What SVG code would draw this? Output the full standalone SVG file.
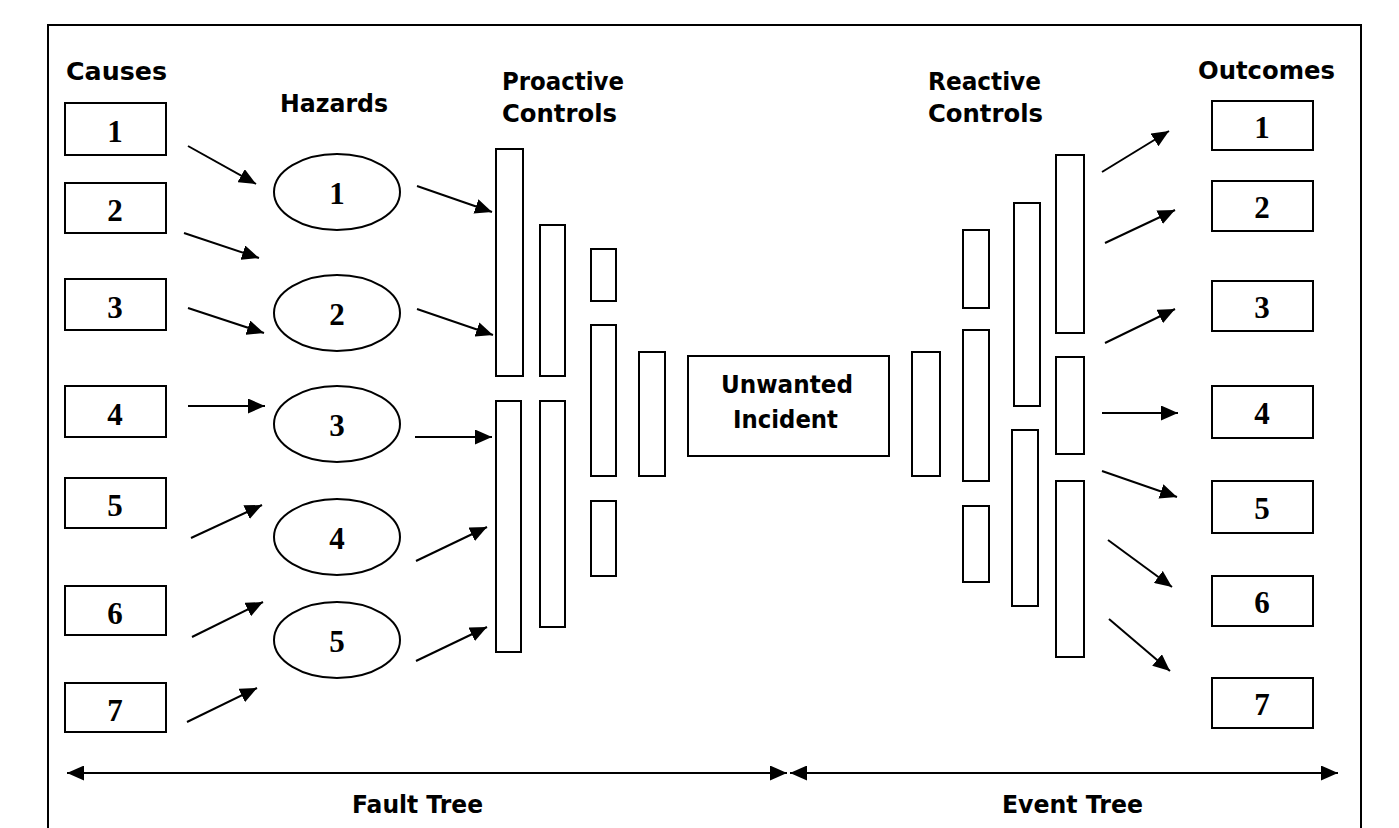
<svg xmlns="http://www.w3.org/2000/svg" width="1399" height="828" viewBox="0 0 1399 828">
  <defs>
    <marker id="head" viewBox="0 0 17 15" refX="17" refY="7.5" markerWidth="17" markerHeight="15" markerUnits="userSpaceOnUse" orient="auto-start-reverse">
      <path d="M0,0 L17,7.5 L0,15 z" fill="#000"/>
    </marker>
    <style>
      .box { fill: #fff; stroke: #000; stroke-width: 2; }
      .bar { fill: #fff; stroke: #000; stroke-width: 2; }
      .num { font-family: "Liberation Serif", "Times New Roman", serif; font-weight: bold; font-size: 31px; text-anchor: middle; fill: #000; }
      .head { font-family: "DejaVu Sans", Verdana, sans-serif; font-weight: bold; font-size: 25px; fill: #000; }
      .arrow { stroke: #000; stroke-width: 2; fill: none; marker-end: url(#head); }
      .span { stroke: #000; stroke-width: 2; fill: none; marker-start: url(#head); marker-end: url(#head); }
    </style>
  </defs>
  <rect width="1399" height="828" fill="#fff"/>

  <!-- frame (open at the bottom) -->
  <path d="M48,828 L48,25 L1361,25 L1361,828" fill="none" stroke="#000" stroke-width="2"/>

  <!-- column headings -->
  <text class="head" x="66" y="80" textLength="101" lengthAdjust="spacingAndGlyphs">Causes</text>
  <text class="head" x="280" y="112" textLength="108" lengthAdjust="spacingAndGlyphs">Hazards</text>
  <text class="head" x="502" y="90" textLength="122" lengthAdjust="spacingAndGlyphs">Proactive</text>
  <text class="head" x="502" y="122" textLength="115" lengthAdjust="spacingAndGlyphs">Controls</text>
  <text class="head" x="928" y="90" textLength="113" lengthAdjust="spacingAndGlyphs">Reactive</text>
  <text class="head" x="928" y="122" textLength="115" lengthAdjust="spacingAndGlyphs">Controls</text>
  <text class="head" x="1198" y="79" textLength="137" lengthAdjust="spacingAndGlyphs">Outcomes</text>

  <!-- causes -->
  <g id="cause1"><rect class="box" x="65" y="103" width="101" height="52"/><text class="num" x="115" y="142">1</text></g>
  <g id="cause2"><rect class="box" x="65" y="183" width="101" height="50"/><text class="num" x="115" y="221">2</text></g>
  <g id="cause3"><rect class="box" x="65" y="279" width="101" height="51"/><text class="num" x="115" y="318">3</text></g>
  <g id="cause4"><rect class="box" x="65" y="386" width="101" height="51"/><text class="num" x="115" y="425">4</text></g>
  <g id="cause5"><rect class="box" x="65" y="478" width="101" height="50"/><text class="num" x="115" y="516">5</text></g>
  <g id="cause6"><rect class="box" x="65" y="586" width="101" height="49"/><text class="num" x="115" y="624">6</text></g>
  <g id="cause7"><rect class="box" x="65" y="683" width="101" height="49"/><text class="num" x="115" y="721">7</text></g>

  <!-- hazards -->
  <g id="hazard1"><ellipse class="box" cx="337" cy="192" rx="63" ry="38"/><text class="num" x="337" y="204">1</text></g>
  <g id="hazard2"><ellipse class="box" cx="337" cy="313" rx="63" ry="38"/><text class="num" x="337" y="325">2</text></g>
  <g id="hazard3"><ellipse class="box" cx="337" cy="424" rx="63" ry="38"/><text class="num" x="337" y="436">3</text></g>
  <g id="hazard4"><ellipse class="box" cx="337" cy="537" rx="63" ry="38"/><text class="num" x="337" y="549">4</text></g>
  <g id="hazard5"><ellipse class="box" cx="337" cy="640" rx="63" ry="38"/><text class="num" x="337" y="652">5</text></g>

  <!-- proactive control barriers -->
  <g id="proactive">
    <rect class="bar" x="496" y="149" width="27" height="227"/>
    <rect class="bar" x="540" y="225" width="25" height="151"/>
    <rect class="bar" x="591" y="249" width="25" height="52"/>
    <rect class="bar" x="591" y="325" width="25" height="151"/>
    <rect class="bar" x="639" y="352" width="26" height="124"/>
    <rect class="bar" x="496" y="401" width="25" height="251"/>
    <rect class="bar" x="540" y="401" width="25" height="226"/>
    <rect class="bar" x="591" y="501" width="25" height="75"/>
  </g>

  <!-- top event -->
  <g id="incident">
    <rect class="box" x="688" y="356" width="201" height="100"/>
    <text class="head" x="721" y="393" textLength="132" lengthAdjust="spacingAndGlyphs">Unwanted</text>
    <text class="head" x="733" y="428" textLength="105" lengthAdjust="spacingAndGlyphs">Incident</text>
  </g>

  <!-- reactive control barriers -->
  <g id="reactive">
    <rect class="bar" x="912" y="352" width="28" height="124"/>
    <rect class="bar" x="963" y="230" width="26" height="78"/>
    <rect class="bar" x="963" y="330" width="26" height="151"/>
    <rect class="bar" x="963" y="506" width="26" height="76"/>
    <rect class="bar" x="1014" y="203" width="26" height="203"/>
    <rect class="bar" x="1012" y="430" width="26" height="176"/>
    <rect class="bar" x="1056" y="155" width="28" height="178"/>
    <rect class="bar" x="1056" y="357" width="28" height="97"/>
    <rect class="bar" x="1056" y="481" width="28" height="176"/>
  </g>

  <!-- outcomes -->
  <g id="outcome1"><rect class="box" x="1212" y="101" width="101" height="49"/><text class="num" x="1262" y="138">1</text></g>
  <g id="outcome2"><rect class="box" x="1212" y="181" width="101" height="50"/><text class="num" x="1262" y="218">2</text></g>
  <g id="outcome3"><rect class="box" x="1212" y="281" width="101" height="50"/><text class="num" x="1262" y="318">3</text></g>
  <g id="outcome4"><rect class="box" x="1212" y="386" width="101" height="52"/><text class="num" x="1262" y="424">4</text></g>
  <g id="outcome5"><rect class="box" x="1212" y="481" width="101" height="52"/><text class="num" x="1262" y="519">5</text></g>
  <g id="outcome6"><rect class="box" x="1212" y="576" width="101" height="50"/><text class="num" x="1262" y="613">6</text></g>
  <g id="outcome7"><rect class="box" x="1212" y="678" width="101" height="50"/><text class="num" x="1262" y="715">7</text></g>

  <!-- connectors -->
  <g id="connectors">
    <line class="arrow" x1="188" y1="146" x2="256" y2="184"/>
    <line class="arrow" x1="184" y1="233" x2="259" y2="258"/>
    <line class="arrow" x1="188" y1="308" x2="264" y2="333"/>
    <line class="arrow" x1="188" y1="406" x2="265" y2="406"/>
    <line class="arrow" x1="191" y1="538" x2="262" y2="505"/>
    <line class="arrow" x1="192" y1="637" x2="263" y2="602"/>
    <line class="arrow" x1="187" y1="722" x2="257" y2="688"/>

    <line class="arrow" x1="417" y1="186" x2="492" y2="212"/>
    <line class="arrow" x1="417" y1="309" x2="493" y2="335"/>
    <line class="arrow" x1="415" y1="437" x2="492" y2="437"/>
    <line class="arrow" x1="416" y1="561" x2="487" y2="527"/>
    <line class="arrow" x1="416" y1="661" x2="487" y2="627"/>

    <line class="arrow" x1="1102" y1="172" x2="1169" y2="131"/>
    <line class="arrow" x1="1105" y1="243" x2="1175" y2="210"/>
    <line class="arrow" x1="1105" y1="343" x2="1175" y2="309"/>
    <line class="arrow" x1="1102" y1="413" x2="1178" y2="413"/>
    <line class="arrow" x1="1102" y1="471" x2="1177" y2="497"/>
    <line class="arrow" x1="1108" y1="540" x2="1172" y2="587"/>
    <line class="arrow" x1="1109" y1="619" x2="1170" y2="671"/>

    <line class="span" x1="67" y1="773" x2="787" y2="773"/>
    <line class="span" x1="790" y1="773" x2="1338" y2="773"/>
  </g>

  <text class="head" x="352" y="813" textLength="131" lengthAdjust="spacingAndGlyphs">Fault Tree</text>
  <text class="head" x="1002" y="813" textLength="141" lengthAdjust="spacingAndGlyphs">Event Tree</text>
</svg>
